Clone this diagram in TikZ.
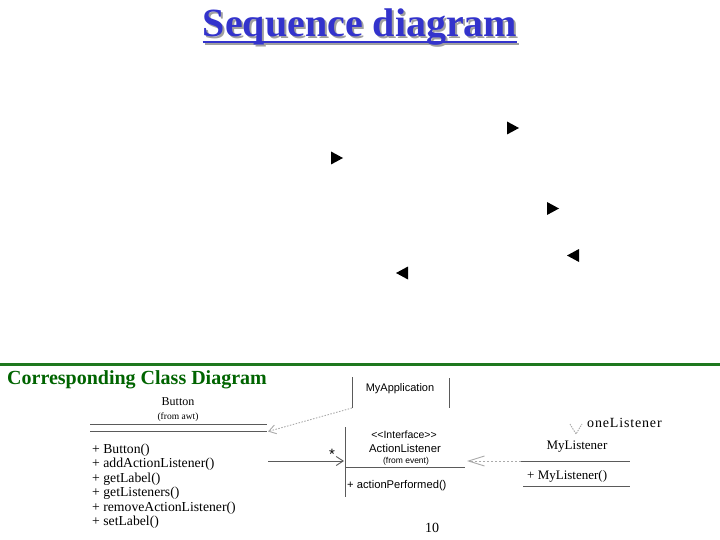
\documentclass[tikz,border=0pt]{standalone}
\usepackage{fontspec}
\setmainfont{Liberation Serif}
\newfontfamily\sansf{Liberation Sans}
\usetikzlibrary{arrows.meta}
\definecolor{titleblue}{RGB}{51,51,204}
\definecolor{shadowgray}{RGB}{160,160,160}
\definecolor{rulegreen}{RGB}{30,120,30}
\definecolor{headgreen}{RGB}{0,100,0}
\definecolor{umlline}{RGB}{90,90,90}
\definecolor{umllight}{RGB}{170,170,170}
\begin{document}
\begin{tikzpicture}[x=1pt,y=-1pt,
  txt/.style={inner sep=0pt, anchor=base},
  txtw/.style={inner sep=0pt, anchor=base west},
  serifsm/.style={font=\fontsize{13.7}{14}\selectfont},
  sanssm/.style={font=\sansf\fontsize{11.2}{12}\selectfont},
  umlrule/.style={draw=umlline, line width=0.9pt},
  depline/.style={draw=umllight, line width=0.9pt, dash pattern=on 2pt off 2pt},
  openbarb/.style={-{Straight Barb[length=7pt,width=9pt]}},
  rtri/.pic={\fill[black] (-6,-6.5) -- (6,0) -- (-6,6.5) -- cycle;},
  ltri/.pic={\fill[black] (6,-6.5) -- (-6,0) -- (6,6.5) -- cycle;}
]
\useasboundingbox[fill=white] (0,0) rectangle (720,540);

% ---------- title ----------
\node[txt, text=shadowgray, font=\bfseries\fontsize{40}{40}\selectfont] (titleshadow) at (362,39) {Sequence diagram};
\draw[shadowgray, line width=2pt] ([yshift=-5pt]titleshadow.base west) -- ([yshift=-5pt]titleshadow.base east);
\node[txt, text=titleblue, font=\bfseries\fontsize{40}{40}\selectfont] (title) at (360,37) {Sequence diagram};
\draw[titleblue, line width=2pt] ([yshift=-5pt]title.base west) -- ([yshift=-5pt]title.base east);

% ---------- lone arrowheads ----------
\pic at (513,128) {rtri};
\pic at (337,158) {rtri};
\pic at (553,208.5) {rtri};
\pic at (573,255.5) {ltri};
\pic at (402,273) {ltri};

% ---------- divider and heading ----------
\coordinate (ruleL) at (0,364.5);
\coordinate (ruleR) at (720,364.5);
\draw[rulegreen, line width=2.5pt] (ruleL) -- (ruleR);
\node[txtw, text=headgreen, font=\bfseries\fontsize{20}{20}\selectfont] (cdhead) at (7,384) {Corresponding Class Diagram};

% ---------- Button class ----------
\node[txt, font=\fontsize{12}{12}\selectfont] (btnname) at (178,405) {Button};
\node[txt, font=\fontsize{9.5}{10}\selectfont] (btnfrom) at (178,419) {(from awt)};
\coordinate (btnL1) at (90,424); \coordinate (btnR1) at (267,424);
\coordinate (btnL2) at (90,431); \coordinate (btnR2) at (267,431);
\draw[umlrule] (btnL1) -- (btnR1);
\draw[umlrule] (btnL2) -- (btnR2);
\node[txtw, serifsm] (m1) at (92,453) {+ Button()};
\node[txtw, serifsm] (m2) at (92,467.5) {+ addActionListener()};
\node[txtw, serifsm] (m3) at (92,482) {+ getLabel()};
\node[txtw, serifsm] (m4) at (92,496.5) {+ getListeners()};
\node[txtw, serifsm] (m5) at (92,511) {+ removeActionListener()};
\node[txtw, serifsm] (m6) at (92,525.5) {+ setLabel()};

% ---------- MyApplication ----------
\node[txt, font=\sansf\fontsize{11}{11}\selectfont] (appname) at (400,391) {MyApplication};
\coordinate (appTL) at (352,377); \coordinate (appBL) at (352,408);
\coordinate (appTR) at (449,378); \coordinate (appBR) at (449,408);
\draw[umlrule] (appTL) -- (appBL);
\draw[umlrule] (appTR) -- (appBR);
\coordinate (btnDep) at (268,431.5);
\draw[depline, dash pattern=on 1.5pt off 1.5pt, openbarb] (appBL) -- (btnDep);

% ---------- ActionListener ----------
\node[txt, font=\sansf\fontsize{10.5}{11}\selectfont] (alstereo) at (404,438) {<<Interface>>};
\node[txt, font=\sansf\fontsize{11.3}{12}\selectfont] (alname) at (405,452) {ActionListener};
\node[txt, font=\sansf\fontsize{8.5}{9}\selectfont] (alfrom) at (406,463) {(from event)};
\coordinate (alT) at (345,427); \coordinate (alB) at (345,497);
\coordinate (alHR) at (465,467); \coordinate (alHL) at (345,467);
\draw[umlrule] (alT) -- (alB);
\draw[umlrule] (alHL) -- (alHR);
\node[txtw, sanssm] (alop) at (347,488) {+ actionPerformed()};

% association Button -> ActionListener
\coordinate (assocS) at (268,461);
\coordinate (assocE) at (344,461);
\draw[umlrule, openbarb] (assocS) -- (assocE);
\node[txt, font=\sansf\fontsize{15}{15}\selectfont] (mult) at (332,459) {*};

% ---------- MyListener ----------
\node[txt, font=\fontsize{13}{13}\selectfont] (mlname) at (577,449) {MyListener};
\coordinate (mlL1) at (521,461); \coordinate (mlR1) at (630,461);
\coordinate (mlL2) at (523,486); \coordinate (mlR2) at (630,486);
\draw[umlrule] (mlL1) -- (mlR1);
\draw[umlrule] (mlL2) -- (mlR2);
\node[txtw, font=\fontsize{13}{13}\selectfont] (mlop) at (527,479) {+ MyListener()};
\coordinate (realE) at (467,461);
\draw[depline, -{Straight Barb[length=16pt,width=10pt]}] (mlL1) -- (realE);

% role name
\node[txtw, font=\fontsize{14}{14}\selectfont\addfontfeature{LetterSpace=6}] (role) at (587,427) {oneListener};
\coordinate (vL) at (570,424); \coordinate (vT) at (576,434); \coordinate (vR) at (582,424);
\draw[depline, dash pattern=on 1.5pt off 1pt] (vL) -- (vT) -- (vR);

% ---------- page number ----------
\node[txt, font=\fontsize{14}{14}\selectfont] (pagenum) at (432,532) {10};
\end{tikzpicture}
\end{document}
